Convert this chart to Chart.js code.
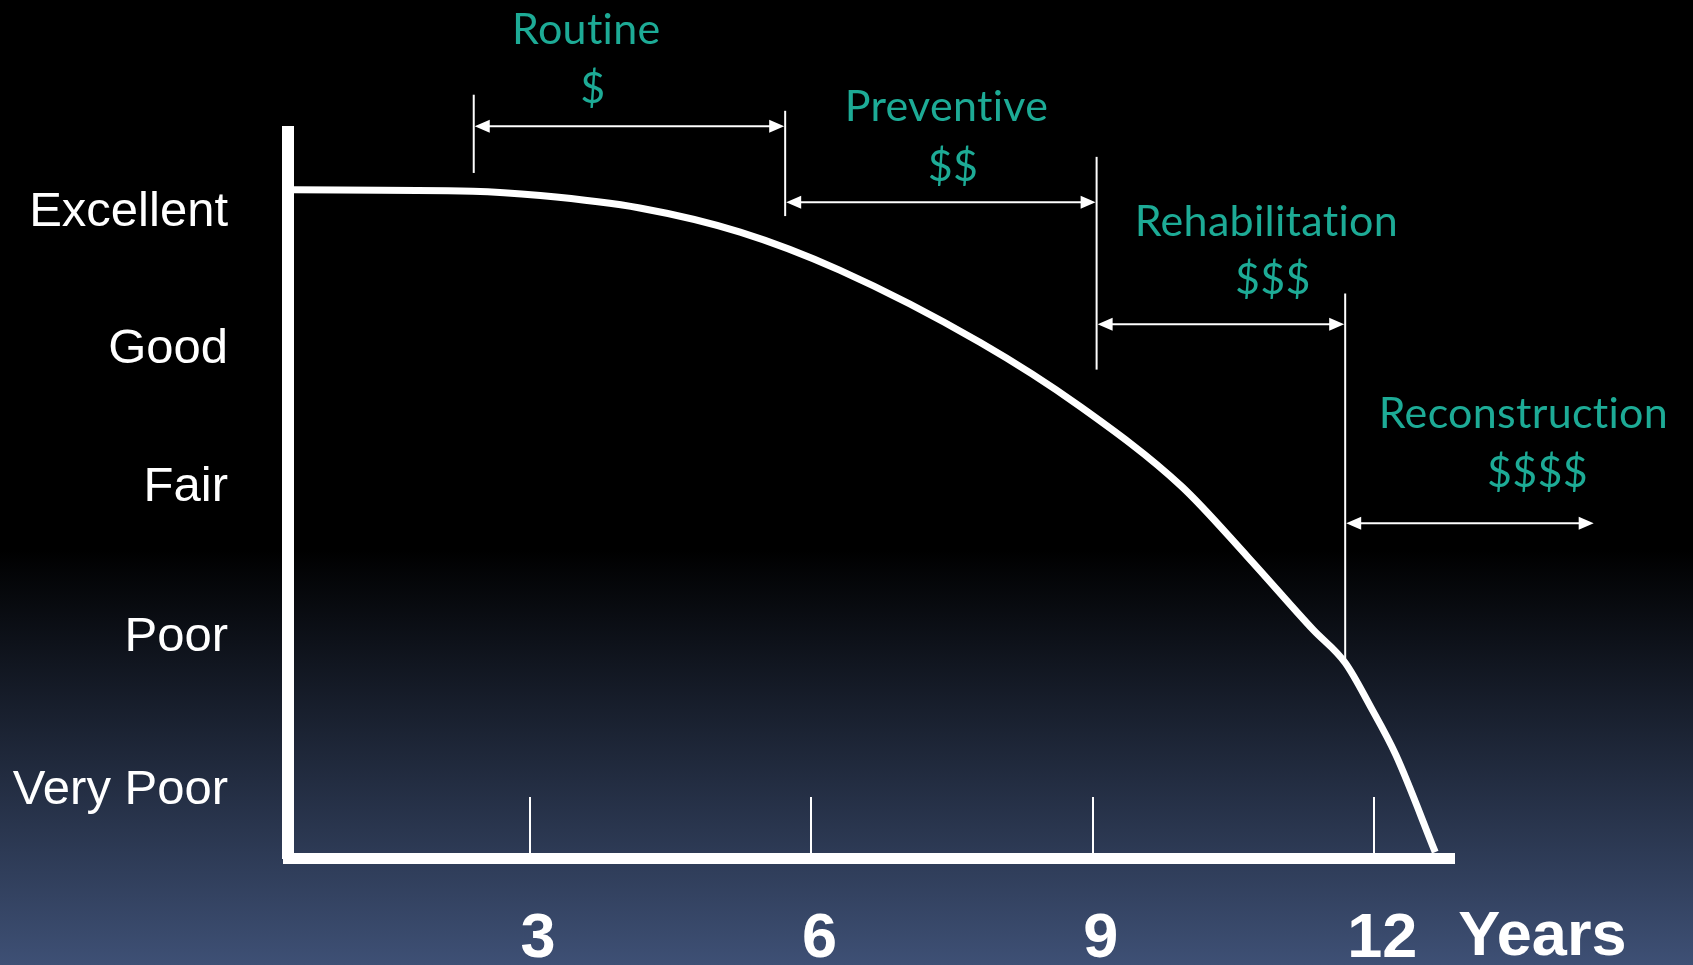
<!DOCTYPE html>
<html>
<head>
<meta charset="utf-8">
<script src="https://cdn.jsdelivr.net/npm/chart.js@4"></script>
<style>
  html, body { margin: 0; padding: 0; overflow: hidden; }
  body { background: linear-gradient(to bottom, #000 0%, #000 57%, #3e5075 100%); }
  #wrap { width: 1693px; height: 965px; position: relative; }
</style>
</head>
<body>
<div id="wrap"><canvas id="chart"></canvas></div>
<script>
// ---------- data ----------
const years     = [0.47, 2.39, 3.11, 4.17, 5.24, 6.30, 7.80, 8.87, 9.94, 10.65, 11.35, 11.69, 11.96, 12.23, 12.65];
const condition = [91.4, 91.2, 90.6, 88.9, 85.6, 80.4, 70.5, 61.7, 50.9, 41.2, 31.2, 26.7, 20.7, 14.1, 0.8];

const yearTicks       = [3, 6, 9, 12];
const conditionLevels = [88.3, 69.6, 50.7, 30.1, 9.3];
const conditionLabels = ['Excellent', 'Good', 'Fair', 'Poor', 'Very Poor'];

const phaseNames = ['Routine', 'Preventive', 'Rehabilitation', 'Reconstruction'];
const phaseCosts = ['$', '$$', '$$$', '$$$$'];
const phaseStart = [2.40, 5.72, 9.04, 11.69];
const phaseEnd   = [5.72, 9.04, 11.69, 14.35];

// ---------- annotation layout (scale units) ----------
const arrowRow  = [100.1, 89.7, 73.0, 45.8];
const fenceSpan = [[104.4, 93.7], [102.2, 87.8], [95.9, 66.8], [77.2, 26.9]];
const nameSpot  = [[3.60, 111.4], [7.44, 100.8], [10.85, 85.1], [13.59, 58.8]];
const costSpot  = [[3.67, 103.3], [7.51, 92.6], [10.92, 77.2], [13.74, 50.8]];

const teal = '#1dab96';

const phasePlugin = {
  id: 'phases',
  afterDatasetsDraw(chart) {
    const { ctx, scales: { x, y } } = chart;
    ctx.save();
    ctx.strokeStyle = '#fff';
    ctx.fillStyle = '#fff';
    ctx.lineWidth = 2;

    phaseNames.forEach((name, i) => {
      const x0 = x.getPixelForValue(phaseStart[i]);
      const x1 = x.getPixelForValue(phaseEnd[i]);
      const ay = y.getPixelForValue(arrowRow[i]);

      // boundary line at phase start
      ctx.beginPath();
      ctx.moveTo(x0, y.getPixelForValue(fenceSpan[i][0]));
      ctx.lineTo(x0, y.getPixelForValue(fenceSpan[i][1]));
      ctx.stroke();

      // double-headed arrow
      ctx.beginPath();
      ctx.moveTo(x0 + 10, ay);
      ctx.lineTo(x1 - 10, ay);
      ctx.stroke();
      ctx.beginPath();
      ctx.moveTo(x0 + 1, ay); ctx.lineTo(x0 + 16, ay - 6.5); ctx.lineTo(x0 + 16, ay + 6.5);
      ctx.closePath(); ctx.fill();
      ctx.beginPath();
      ctx.moveTo(x1 - 1, ay); ctx.lineTo(x1 - 16, ay - 6.5); ctx.lineTo(x1 - 16, ay + 6.5);
      ctx.closePath(); ctx.fill();
    });

    // phase labels
    ctx.fillStyle = teal;
    ctx.textAlign = 'center';
    ctx.textBaseline = 'alphabetic';
    ctx.font = '43px Lato';
    ctx.letterSpacing = '0.3px';   // also stops the "ti" ligature
    phaseNames.forEach((name, i) => {
      ctx.fillText(name, x.getPixelForValue(nameSpot[i][0]), y.getPixelForValue(nameSpot[i][1]));
      ctx.fillText(phaseCosts[i], x.getPixelForValue(costSpot[i][0]), y.getPixelForValue(costSpot[i][1]));
    });
    ctx.letterSpacing = '0px';

    // axis unit next to the last year tick
    ctx.fillStyle = '#fff';
    ctx.textAlign = 'left';
    ctx.textBaseline = 'middle';
    ctx.font = 'bold 63px "Liberation Sans"';
    ctx.fillText('Years', x.getPixelForValue(12) + 84, 938);
    ctx.restore();
  }
};

new Chart(document.getElementById('chart'), {
  type: 'line',
  data: {
    datasets: [{
      data: years.map((v, i) => ({ x: v, y: condition[i] })),
      borderColor: '#fff',
      borderWidth: 7,
      pointRadius: 0,
      cubicInterpolationMode: 'monotone',
      clip: false
    }]
  },
  options: {
    responsive: true,
    maintainAspectRatio: false,
    animation: false,
    layout: { padding: { top: 132, right: 239, left: 0, bottom: 0 } },
    plugins: { legend: { display: false }, tooltip: { enabled: false } },
    scales: {
      x: {
        type: 'linear',
        min: 0.42,
        max: 12.85,
        afterBuildTicks: s => { s.ticks = yearTicks.map(v => ({ value: v })); },
        afterFit: s => { s.height = 107; },
        grid: { display: true, drawOnChartArea: false, drawTicks: true, tickLength: -61, color: '#fff', lineWidth: 2 },
        border: { display: true, color: '#fff', width: 11 },
        ticks: {
          color: '#fff',
          font: { family: 'Liberation Sans', size: 63, weight: 'bold', lineHeight: 1 },
          padding: 111,
          labelOffset: 8,
          maxRotation: 0,
          autoSkip: false
        }
      },
      y: {
        min: 0,
        max: 99.3,
        afterBuildTicks: s => { s.ticks = conditionLevels.map(v => ({ value: v })); },
        afterFit: s => { s.width = 288; },
        grid: { display: false, drawTicks: false },
        border: { display: true, color: '#fff', width: 12 },
        ticks: {
          color: '#fff',
          font: { family: 'Liberation Sans', size: 49 },
          padding: 60,
          autoSkip: false,
          callback: v => conditionLabels[conditionLevels.indexOf(v)]
        }
      }
    }
  },
  plugins: [phasePlugin]
});
</script>
</body>
</html>
